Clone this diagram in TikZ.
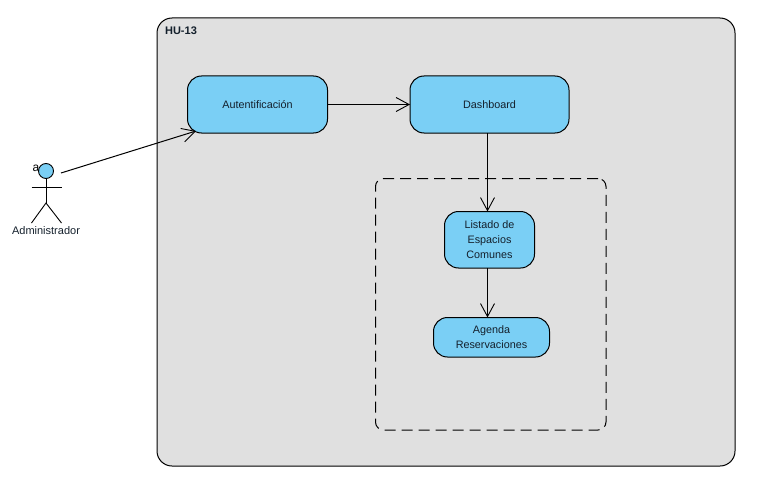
\documentclass[tikz,border=0pt]{standalone}
\usepackage{fontspec}
\setmainfont{Liberation Sans}
\usetikzlibrary{arrows.meta}
\definecolor{stepblue}{HTML}{7ACFF5}
\definecolor{framegray}{HTML}{E0E0E0}
\definecolor{labelink}{HTML}{14202C}
\newcommand{\steptext}[1]{\raisebox{-1pt}[\height][\depth]{\begin{tabular}{@{}c@{}}#1\end{tabular}}}
\tikzstyle{state} = [rectangle, rounded corners=14pt, draw=black, fill=stepblue, line width=1pt, inner sep=0pt, outer sep=0pt, text=labelink, font=\fontsize{10.8}{15}\selectfont]
\tikzstyle{frame} = [rectangle, rounded corners=15pt, draw=black, fill=framegray, line width=1pt, inner sep=0pt, outer sep=0pt]
\tikzstyle{region} = [rectangle, rounded corners=8pt, draw=black, line width=1pt, dash pattern=on 11pt off 6pt, inner sep=0pt, outer sep=0pt]
\tikzstyle{arrow} = [line width=1pt,-{Straight Barb[length=13pt,width=14pt,line width=0.9pt]}]
\tikzstyle{limb} = [line width=0.9pt]
\begin{document}
\begin{tikzpicture}[x=1pt,y=-1pt]
\useasboundingbox (0,0) rectangle (779,487);
\node [frame, minimum width=578pt, minimum height=448pt] (hu) at (446,242) {};
\node [font=\fontsize{11}{13}\selectfont\bfseries, text=labelink, inner sep=0pt] (hulabel) at (181,30.5) {HU-13};
\node [region, minimum width=230.5pt, minimum height=251.5pt] (group) at (490.75,304.25) {};
\node [state, minimum width=140pt, minimum height=57pt] (auth) at (257.5,104.5) {\steptext{Autentificación}};
\node [state, minimum width=159pt, minimum height=57pt] (dash) at (489.5,104.5) {\steptext{Dashboard}};
\node [state, minimum width=90pt, minimum height=56.5pt] (lista) at (489.5,239.75) {\steptext{Listado de\\Espacios\\Comunes}};
\node [state, minimum width=116pt, minimum height=39.5pt] (agenda) at (491.5,337.25) {\steptext{Agenda\\Reservaciones}};
\node [circle, draw=black, fill=stepblue, line width=0.9pt, minimum size=15pt, inner sep=0pt, outer sep=0pt] (head) at (46,171) {};
\node [font=\fontsize{12}{13}\selectfont, inner sep=0pt] (tag) at (36,168.5) {a};
\coordinate (hip) at (46,203);
\coordinate (armleft) at (31.5,187);
\coordinate (armright) at (61.5,187);
\coordinate (footleft) at (31.5,223);
\coordinate (footright) at (61.5,223);
\coordinate (adminend) at (61,173);
\draw [limb] (head) -- (hip);
\draw [limb] (armleft) -- (armright);
\draw [limb] (footleft) -- (hip) -- (footright);
\node [font=\fontsize{11}{13}\selectfont, text=labelink, inner sep=0pt] (admin) at (46,231) {Administrador};
\draw [arrow] (adminend) -- ([xshift=8.5pt,yshift=2pt]auth.south west);
\draw [arrow] (auth) -- (dash);
\draw [arrow] ([xshift=-2pt]dash.south) -- ([xshift=-2pt]lista.north);
\draw [arrow] ([xshift=-2pt]lista.south) -- ([xshift=-4pt]agenda.north);
\end{tikzpicture}
\end{document}
